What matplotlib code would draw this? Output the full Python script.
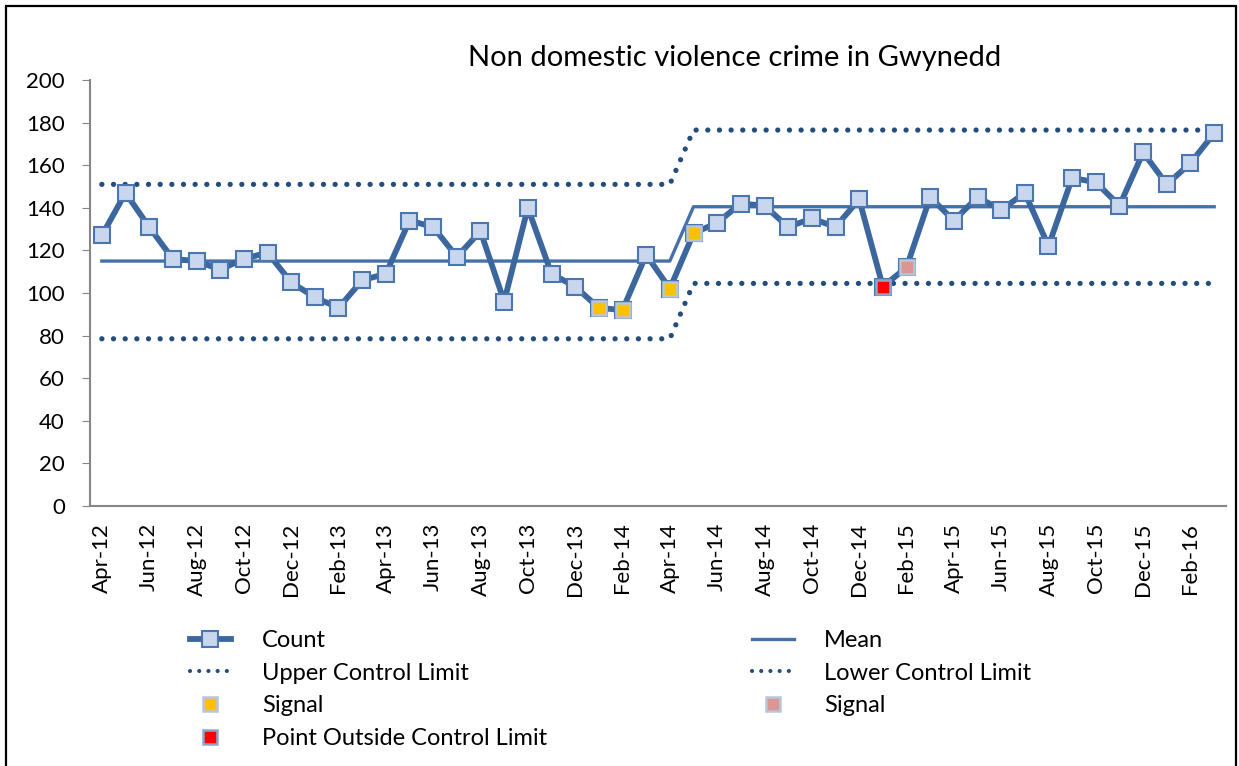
import numpy as np
import matplotlib.pyplot as plt
from matplotlib.lines import Line2D
from matplotlib.patches import Rectangle

plt.rcParams['font.family'] = ['Lato', 'DejaVu Sans']

months = ['Apr-12', 'May-12', 'Jun-12', 'Jul-12', 'Aug-12', 'Sep-12', 'Oct-12', 'Nov-12',
          'Dec-12', 'Jan-13', 'Feb-13', 'Mar-13', 'Apr-13', 'May-13', 'Jun-13', 'Jul-13',
          'Aug-13', 'Sep-13', 'Oct-13', 'Nov-13', 'Dec-13', 'Jan-14', 'Feb-14', 'Mar-14',
          'Apr-14', 'May-14', 'Jun-14', 'Jul-14', 'Aug-14', 'Sep-14', 'Oct-14', 'Nov-14',
          'Dec-14', 'Jan-15', 'Feb-15', 'Mar-15', 'Apr-15', 'May-15', 'Jun-15', 'Jul-15',
          'Aug-15', 'Sep-15', 'Oct-15', 'Nov-15', 'Dec-15', 'Jan-16', 'Feb-16', 'Mar-16']

count = [127, 147, 131, 116, 115, 111, 116, 119, 105, 98, 93, 106, 109, 134, 131, 117,
         129, 96, 140, 109, 103, 93, 92, 118, 102, 128, 133, 142, 141, 131, 135, 131,
         144, 103, 112, 145, 134, 145, 139, 147, 122, 154, 152, 141, 166, 151, 161, 175]

# two phases: Apr-12..Apr-14 and May-14..Mar-16
mean = [115.0] * 25 + [140.5] * 23
ucl = [151.0] * 25 + [176.5] * 23
lcl = [78.5] * 25 + [104.5] * 23

signal_idx = [21, 22, 24, 25]       # yellow signals
signal2_idx = [34]                  # pink signal
outside_idx = [33]                  # point outside control limit

x = np.arange(len(months))

fig = plt.figure(figsize=(12.39, 7.66), dpi=100)
ax = fig.add_axes([90 / 1239, 1 - 506 / 766, (1226 - 90) / 1239, (506 - 80) / 766])

line_col = '#3B679E'
mean_col = '#4571A8'
dot_col = '#244D7E'
dotstyle = (0, (0.01, 2.2))

ax.plot(x, ucl, color=dot_col, lw=3.8, linestyle=dotstyle, dash_capstyle='round', zorder=2)
ax.plot(x, lcl, color=dot_col, lw=3.8, linestyle=dotstyle, dash_capstyle='round', zorder=2)
ax.plot(x, mean, color=mean_col, lw=2.4, zorder=3)
ax.plot(x, count, color=line_col, lw=4.2, marker='s', markersize=11.5,
        markerfacecolor='#C8D6EE', markeredgecolor='#4A76AD', markeredgewidth=1.5, zorder=4)

cnt = np.array(count)
ax.plot(x[signal_idx], cnt[signal_idx], linestyle='none', marker='s', markersize=10.5,
        markerfacecolor='#FFC000', markeredgecolor='#B8C6DA', markeredgewidth=1.8, zorder=5)
ax.plot(x[signal2_idx], cnt[signal2_idx], linestyle='none', marker='s', markersize=10.5,
        markerfacecolor='#D99694', markeredgecolor='#B8C6DA', markeredgewidth=1.8, zorder=5)
ax.plot(x[outside_idx], cnt[outside_idx], linestyle='none', marker='s', markersize=10.5,
        markerfacecolor='#FF0000', markeredgecolor='#8EA6CB', markeredgewidth=1.8, zorder=5)

ax.set_xlim(-0.5, len(months) - 0.5)
ax.set_ylim(0, 200)
ax.set_yticks(np.arange(0, 201, 20))
ax.set_xticks(x[::2])
ax.set_xticklabels(months[::2], rotation=90, fontsize=16)
ax.tick_params(axis='y', labelsize=16, length=6, color='#868686', pad=12)
ax.tick_params(axis='x', length=0, pad=12)
for s in ['top', 'right']:
    ax.spines[s].set_visible(False)
for s in ['left', 'bottom']:
    ax.spines[s].set_color('#868686')
    ax.spines[s].set_linewidth(1.5)

fig.text(735 / 1239, 1 - 58 / 766, 'Non domestic violence crime in Gwynedd',
         ha='center', va='center', fontsize=21)

# legend
h_count = Line2D([], [], color=line_col, lw=4.2, marker='s', markersize=11,
                 markerfacecolor='#C8D6EE', markeredgecolor='#4A76AD', markeredgewidth=1.5)
h_mean = Line2D([], [], color=mean_col, lw=2.4)
h_ucl = Line2D([], [], color=dot_col, lw=3.0, linestyle=dotstyle, dash_capstyle='round')
h_lcl = Line2D([], [], color=dot_col, lw=3.0, linestyle=dotstyle, dash_capstyle='round')
h_sig = Line2D([], [], linestyle='none', marker='s', markersize=10,
               markerfacecolor='#FFC000', markeredgecolor='#B8C6DA', markeredgewidth=1.8)
h_sig2 = Line2D([], [], linestyle='none', marker='s', markersize=10,
                markerfacecolor='#D99694', markeredgecolor='#B8C6DA', markeredgewidth=1.8)
h_out = Line2D([], [], linestyle='none', marker='s', markersize=10,
               markerfacecolor='#FF0000', markeredgecolor='#8EA6CB', markeredgewidth=1.8)

handles = [h_count, h_ucl, h_sig, h_out, h_mean, h_lcl, h_sig2]
labels = ['Count', 'Upper Control Limit', 'Signal', 'Point Outside Control Limit',
          'Mean', 'Lower Control Limit', 'Signal']
fig.legend(handles, labels, ncol=2, loc='upper left', bbox_to_anchor=(178 / 1239, 1 - 618 / 766),
           frameon=False, fontsize=17, handlelength=1.75, handletextpad=1.3,
           columnspacing=8.7, labelspacing=0.5, borderpad=0)

# outer chart border
fig.add_artist(Rectangle((6 / 1239, -0.05), (1236 - 6) / 1239, 1.05 - 6 / 766,
                         transform=fig.transFigure, fill=False, edgecolor='black', lw=1.6))

fig.savefig('out.png', dpi=100)
